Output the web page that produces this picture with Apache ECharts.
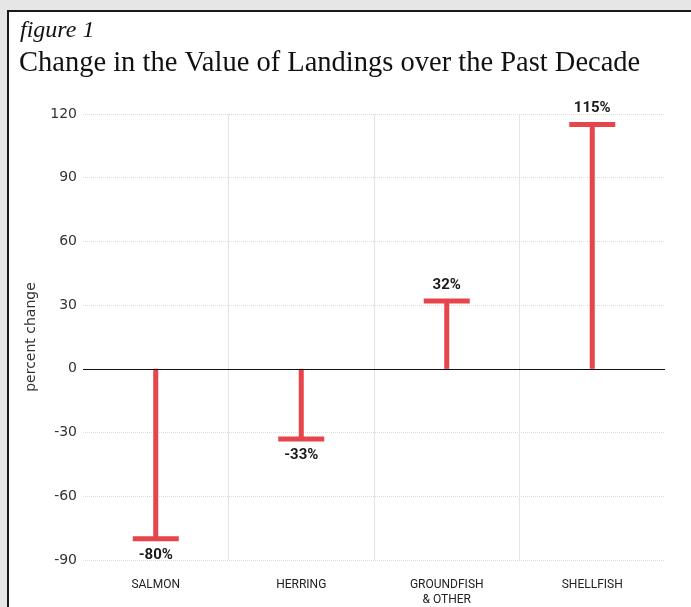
<!DOCTYPE html>
<html>
<head>
<meta charset="utf-8">
<script src="https://cdn.jsdelivr.net/npm/echarts@6/dist/echarts.min.js"></script>
<style>
  html, body { margin:0; padding:0; background:#e6e6e6; }
  #panel { position:absolute; left:7px; top:10px; width:700px; height:620px; background:#fff; border:2px solid #1a1a1a; box-sizing:border-box; }
  #chart { position:absolute; left:0; top:0; width:691px; height:607px; }
</style>
</head>
<body>
<div id="panel"></div>
<div id="chart"></div>
<script>
// ---------------- data ----------------
var categories = ['SALMON', 'HERRING', 'GROUNDFISH\n& OTHER', 'SHELLFISH'];
var changeValues = [-80, -33, 32, 115];
var yTicks = [-90, -60, -30, 0, 30, 60, 90, 120];

var barRed = '#e5454b';

var myChart = echarts.init(document.getElementById('chart'), null, { renderer: 'canvas' });

var option = {
  backgroundColor: 'transparent',
  title: [
    {
      text: 'figure 1',
      left: 15, top: 14,
      textStyle: { fontFamily: 'Liberation Serif', fontStyle: 'italic', fontWeight: 'normal', fontSize: 24, color: '#111' }
    },
    {
      text: 'Change in the Value of Landings over the Past Decade',
      left: 14, top: 44,
      textStyle: { fontFamily: 'Liberation Serif', fontWeight: 'normal', fontSize: 28.5, color: '#111' }
    }
  ],
  grid: { left: 83, right: 26, top: 114, bottom: 47 },
  xAxis: {
    type: 'category',
    data: categories,
    axisLine: { show: false },
    axisTick: { show: false },
    axisLabel: { margin: 17, fontFamily: 'Liberation Sans Narrow, Roboto', fontSize: 12, color: '#222', lineHeight: 15 },
    splitLine: { show: true, showMinLine: false, showMaxLine: false, lineStyle: { color: '#e3e3e3', width: 1 } }
  },
  yAxis: {
    type: 'value',
    min: yTicks[0],
    max: yTicks[yTicks.length - 1],
    interval: 30,
    name: 'percent change',
    nameLocation: 'middle',
    nameGap: 45,
    nameTextStyle: { fontFamily: 'DejaVu Sans', fontSize: 14, color: '#333' },
    axisLine: { show: false },
    axisTick: { show: false },
    axisLabel: { margin: 6, fontFamily: 'DejaVu Sans', fontSize: 14, color: '#333' },
    splitLine: { lineStyle: { color: '#dcdcdc', type: 'dotted', width: 1 } }
  },
  series: [
    {
      type: 'bar',
      data: changeValues,
      barWidth: 5,
      itemStyle: { color: barRed },
      silent: true,
      markLine: {
        silent: true,
        symbol: 'none',
        label: { show: false },
        lineStyle: { color: '#111', type: 'solid', width: 1 },
        data: [{ yAxis: 0 }]
      }
    },
    {
      type: 'scatter',
      symbol: 'rect',
      symbolSize: [46, 5],
      itemStyle: { color: barRed, opacity: 1 },
      silent: true,
      label: {
        show: true,
        formatter: function (p) { return p.value + '%'; },
        position: 'top',
        distance: 6,
        fontFamily: 'Roboto',
        fontWeight: 'bold',
        fontSize: 15,
        color: '#1a1a1a'
      },
      // negative values get their label below the cap
      data: changeValues.map(function (v) {
        return { value: v, label: { position: v < 0 ? 'bottom' : 'top' } };
      })
    }
  ]
};

myChart.setOption(option);
</script>
</body>
</html>
